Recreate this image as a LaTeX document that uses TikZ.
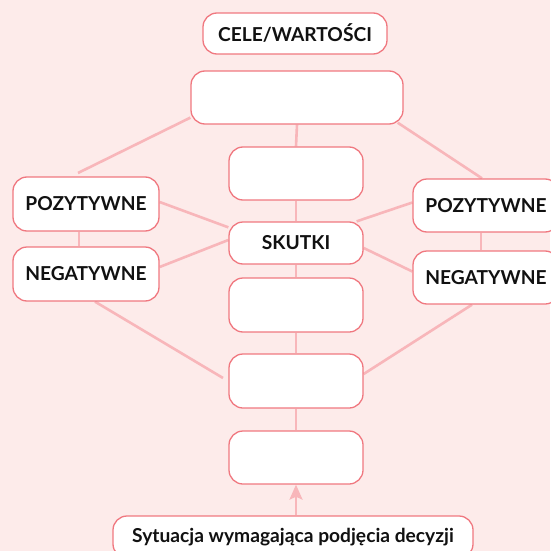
\documentclass[tikz,border=0pt]{standalone}
\usepackage{fontspec}
\setmainfont{Lato}[UprightFont=* Bold]
\usetikzlibrary{arrows.meta}
\pgfdeclarelayer{bg}
\pgfdeclarelayer{edges}
\pgfsetlayers{bg,edges,main}
\definecolor{bgpink}{HTML}{FDEBEA}
\definecolor{boxred}{HTML}{F07880}
\definecolor{linkpink}{HTML}{F8B6BA}
\definecolor{txt}{HTML}{111111}
\tikzset{
  box/.style={draw=boxred, line width=1.3pt, fill=white, rounded corners=14pt,
    inner sep=0pt, text=txt, font=\fontsize{19.2}{22}\selectfont, align=center},
  link/.style={draw=linkpink, line width=2.6pt},
}
\begin{document}
\begin{tikzpicture}[x=1pt,y=-1pt]
\begin{pgfonlayer}{bg}
\fill[bgpink] (0,0) rectangle (550,551);
\end{pgfonlayer}
\useasboundingbox (0,0) rectangle (550,551);

\node[box, minimum width=184pt, minimum height=41pt] (cele) at (295,33.5) {CELE/WARTOŚCI};
\node[box, minimum width=212pt, minimum height=53pt] (top) at (297,97.5) {};
\node[box, minimum width=134pt, minimum height=53pt] (m1) at (296,173.5) {};
\node[box, minimum width=134pt, minimum height=42pt] (sk) at (296,243) {SKUTKI};
\node[box, minimum width=134pt, minimum height=54pt] (m3) at (296,305) {};
\node[box, minimum width=134pt, minimum height=54pt] (m4) at (296,381) {};
\node[box, minimum width=134pt, minimum height=53pt] (m5) at (296,457.5) {};
\node[box, minimum width=360pt, minimum height=42pt] (sit) at (293,537) {Sytuacja wymagająca podjęcia decyzji};
\node[box, minimum width=146pt, minimum height=54pt] (lpoz) at (86,204) {POZYTYWNE};
\node[box, minimum width=146pt, minimum height=54pt] (lneg) at (86,274) {NEGATYWNE};
\node[box, minimum width=146pt, minimum height=53pt] (rpoz) at (486,205.5) {POZYTYWNE};
\node[box, minimum width=146pt, minimum height=53pt] (rneg) at (486,277.5) {NEGATYWNE};

\coordinate (lend) at (78,173);
\coordinate (m4l) at (223,378);

\begin{pgfonlayer}{edges}
\draw[link] ([yshift=7pt]top.south west) -- (lend);
\draw[link] ([xshift=-6pt,yshift=2pt]top.south east) -- ([xshift=-4pt]rpoz.north);
\draw[link] (top.south) -- (m1.north);
\draw[link] (m1.south) -- (sk.north);
\draw[link] (sk.south) -- (m3.north);
\draw[link] (m3.south) -- (m4.north);
\draw[link] (m4.south) -- (m5.north);
\draw[link] ([xshift=-7pt]lpoz.south) -- ([xshift=-7pt]lneg.north);
\draw[link] ([xshift=-5pt]rpoz.south) -- ([xshift=-5pt]rneg.north);
\draw[link] ([yshift=2pt]lpoz.east) -- ([yshift=-6pt]sk.north west);
\draw[link] ([yshift=7pt]lneg.east) -- ([yshift=3pt]sk.west);
\draw[link] ([xshift=-7pt]sk.north east) -- ([yshift=3pt]rpoz.west);
\draw[link] ([yshift=-5pt]sk.east) -- ([yshift=6pt]rneg.west);
\draw[link] ([xshift=9pt]lneg.south) -- (m4l);
\draw[link] ([xshift=-14pt]rneg.south) -- ([yshift=7pt]m4.east);
\draw[link, -{Stealth[length=15pt,width=13pt,inset=3pt]}] (sit.north) ++(3pt,0) coordinate (sa) (sa) -- (sa |- m5.south);
\end{pgfonlayer}
\end{tikzpicture}
\end{document}
